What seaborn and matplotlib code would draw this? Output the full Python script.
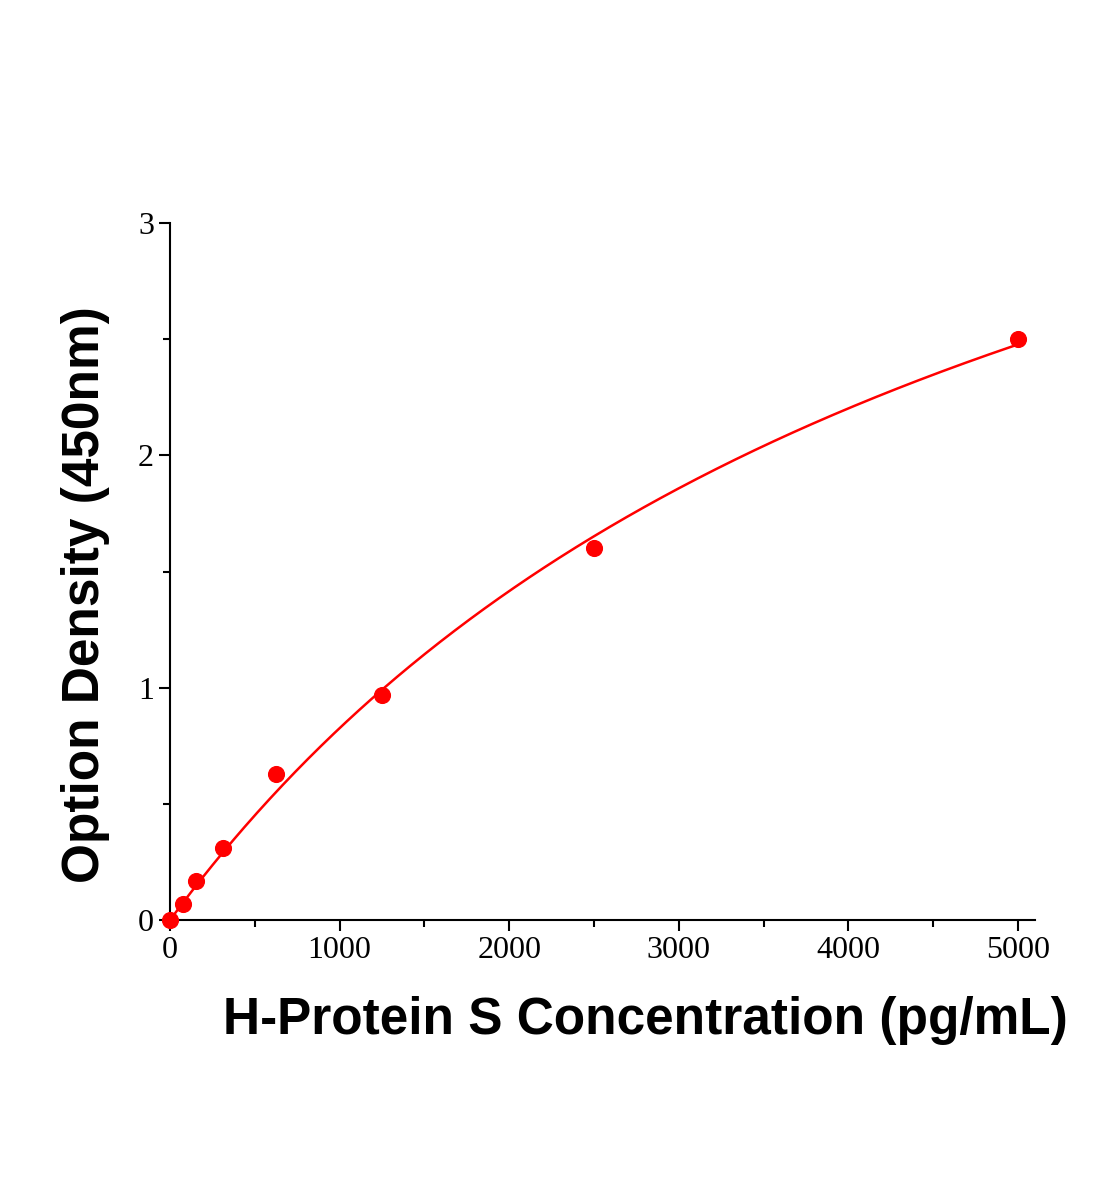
import numpy as np
import pandas as pd
import matplotlib
matplotlib.use('Agg')
import matplotlib.pyplot as plt
import seaborn as sns
from matplotlib.ticker import MultipleLocator

# Standard curve points
conc = [0, 78, 156, 312, 625, 1250, 2500, 5000]
od = [0.0, 0.07, 0.17, 0.31, 0.63, 0.97, 1.60, 2.50]
df = pd.DataFrame({'conc': conc, 'od': od})

# saturating fit y = V*x/(K+x): grid search on K, V in closed form
x = df['conc'].values.astype(float)
y = df['od'].values
best = None
for K in np.linspace(500, 20000, 2000):
    g = x / (K + x)
    V = (g @ y) / (g @ g)
    err = ((V * g - y) ** 2).sum()
    if best is None or err < best[0]:
        best = (err, K, V)
_, K, V = best
xs = np.linspace(0, 5000, 400)
fit = pd.DataFrame({'conc': xs, 'od': V * xs / (K + xs)})

fig = plt.figure(figsize=(11.04, 12), dpi=100)
ax = fig.add_axes([0.154, 0.2333, 0.7835, 0.5808])
sns.lineplot(fit, x='conc', y='od', color='red', lw=1.8, ax=ax)
sns.scatterplot(df, x='conc', y='od', color='red', s=130, edgecolor='red', zorder=5, clip_on=False, ax=ax)

ax.set_xlim(0, 5100)
ax.set_ylim(0, 3)
ax.xaxis.set_major_locator(MultipleLocator(1000))
ax.xaxis.set_minor_locator(MultipleLocator(500))
ax.yaxis.set_major_locator(MultipleLocator(1))
ax.yaxis.set_minor_locator(MultipleLocator(0.5))
ax.spines['top'].set_visible(False)
ax.spines['right'].set_visible(False)
for s in ['left', 'bottom']:
    ax.spines[s].set_linewidth(1.5)
ax.tick_params(which='major', length=8, width=1.5, direction='out')
ax.tick_params(which='minor', length=5, width=1.5, direction='out')
for lab in ax.get_xticklabels() + ax.get_yticklabels():
    lab.set_fontfamily('Liberation Serif')
    lab.set_fontsize(23)
ax.set_xlabel('H-Protein S Concentration (pg/mL)', fontsize=37, fontweight='bold',
              fontfamily='Liberation Sans')
ax.set_ylabel('Option Density (450nm)', fontsize=37, fontweight='bold',
              fontfamily='Liberation Sans')
# centre of x label ~ x=645px, y=1020px; y label centre ~ x=85px, y=595px
ax.xaxis.set_label_coords((645 - 170) / 865, -(1020 - 920) / 697)
ax.yaxis.set_label_coords(-(170 - 85) / 865, (920 - 595) / 697)
ax.xaxis.label.set_va('center')
ax.yaxis.label.set_va('center')
fig.savefig('out.png', dpi=100)
